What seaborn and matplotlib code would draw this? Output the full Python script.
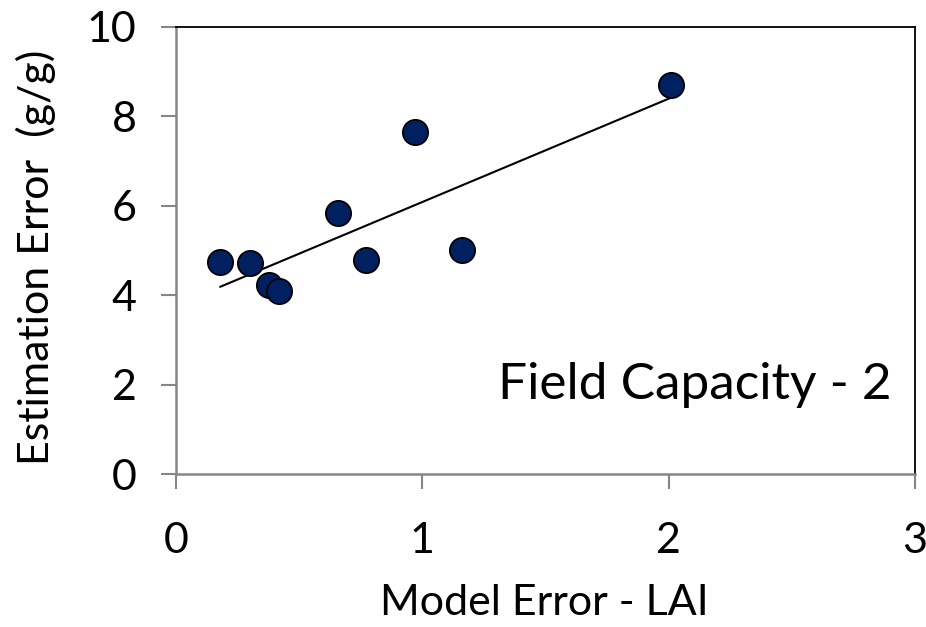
import numpy as np
import pandas as pd
import seaborn as sns
import matplotlib
matplotlib.use("Agg")
import matplotlib.pyplot as plt

model_error_lai = [0.179, 0.300, 0.378, 0.419, 0.658, 0.770, 0.970, 1.160, 2.010]
estimation_error = [4.74, 4.71, 4.23, 4.10, 5.84, 4.79, 7.66, 5.01, 8.70]
x_ticks = [0, 1, 2, 3]
y_ticks = [0, 2, 4, 6, 8, 10]

df = pd.DataFrame({"x": model_error_lai, "y": estimation_error})

sns.set_theme(style="white")
plt.rcParams["font.family"] = ["Lato", "DejaVu Sans"]
plt.rcParams["text.color"] = "black"
plt.rcParams["axes.labelcolor"] = "black"

fig = plt.figure(figsize=(9.26, 6.27), dpi=100)
ax = fig.add_axes([176/926, 1-474/627, (915-176)/926, (474-27)/627])

# trend line (least squares)
slope, intercept = np.polyfit(df["x"], df["y"], 1)
xl = np.array([df["x"].min(), df["x"].max()])
sns.lineplot(x=xl, y=slope*xl + intercept, ax=ax, color="black", linewidth=1.5)

sns.scatterplot(data=df, x="x", y="y", ax=ax, s=330, color="#002060",
                edgecolor="black", linewidth=1.3, zorder=3)

ax.set_xlim(0, 3)
ax.set_ylim(0, 10)
ax.set_xticks(x_ticks)
ax.set_yticks(y_ticks)
ax.tick_params(axis="both", direction="out", length=10.5, width=1.5, color="#868686",
               labelsize=31, left=True, bottom=True, labelcolor="black")
ax.tick_params(axis="x", pad=24)
ax.tick_params(axis="y", pad=18)
for side in ["left", "bottom"]:
    ax.spines[side].set_color("#868686")
    ax.spines[side].set_linewidth(1.8)
for side in ["top", "right"]:
    ax.spines[side].set_color("black")
    ax.spines[side].set_linewidth(1.3)

ax.set_xlabel("Model Error - LAI", fontsize=31, color="black")
ax.set_ylabel("Estimation Error  (g/g)", fontsize=31, color="black")
ax.xaxis.set_label_coords(0.4986, -0.245)
ax.yaxis.set_label_coords(-0.163, 0.484)
ax.text(0.969, 0.20, "Field Capacity - 2", transform=ax.transAxes, fontsize=37,
        ha="right", va="center", color="black")

fig.savefig("out.png", dpi=100)
